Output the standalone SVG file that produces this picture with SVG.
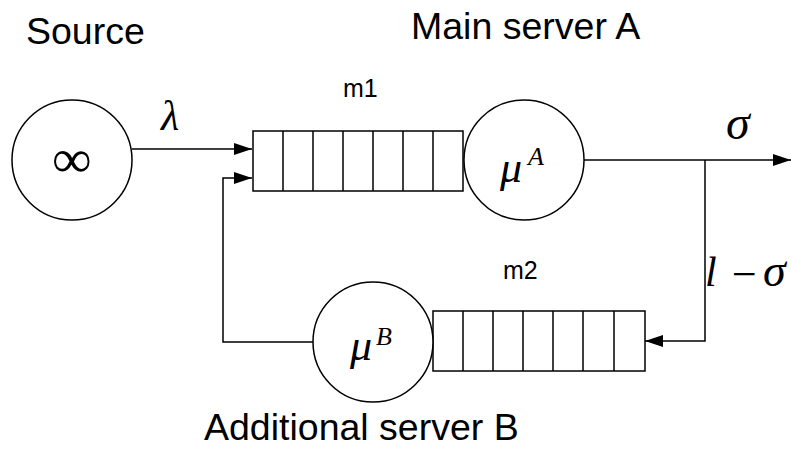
<svg xmlns="http://www.w3.org/2000/svg" width="791" height="459" viewBox="0 0 791 459">
<style>
.s{fill:#fff;stroke:#000;stroke-width:1.5}
.l{fill:none;stroke:#000;stroke-width:1.5}
.t{font-family:"Liberation Sans",Arial,sans-serif;fill:#000}
.m{font-family:"Liberation Serif","Times New Roman",serif;font-style:italic;fill:#000}
</style>
<defs>
<marker id="ah" markerWidth="18" markerHeight="12" refX="18" refY="6" orient="auto" markerUnits="userSpaceOnUse">
<path d="M0,0 L18,6 L0,12 Z" fill="#000"/>
</marker>
</defs>
<rect width="791" height="459" fill="#fff"/>
<g id="connectors">
<line class="l" x1="132" y1="149" x2="252" y2="149" marker-end="url(#ah)"/>
<line class="l" x1="584" y1="160" x2="791" y2="160" marker-end="url(#ah)"/>
<polyline class="l" points="705,160 705,341 645,341" marker-end="url(#ah)"/>
<polyline class="l" points="313,342 223,342 223,178 252,178" marker-end="url(#ah)"/>
</g>
<g id="source">
<circle class="s" cx="72" cy="160" r="60"/>
<text class="m" x="72" y="177" font-size="54" font-style="normal" text-anchor="middle">∞</text>
</g>
<g id="queue-m1">
<rect class="s" x="253" y="131" width="210" height="60"/>
<path class="l" d="M283,131V191M313,131V191M343,131V191M373,131V191M403,131V191M433,131V191"/>
</g>
<g id="server-a">
<circle class="s" cx="524" cy="160" r="60"/>
<text class="m" x="500" y="182" font-size="44">μ</text>
<text class="m" x="528" y="165" font-size="26">A</text>
</g>
<g id="queue-m2">
<rect class="s" x="433" y="311" width="212" height="60"/>
<path class="l" d="M463,311V371M493,311V371M523,311V371M553,311V371M583,311V371M614,311V371"/>
</g>
<g id="server-b">
<circle class="s" cx="373" cy="342" r="60"/>
<text class="m" x="350" y="360" font-size="44">μ</text>
<text class="m" x="376" y="345" font-size="26">B</text>
</g>
<g id="labels">
<text class="t" x="26" y="44" font-size="37.5">Source</text>
<text class="t" x="411" y="39" font-size="37.5">Main server A</text>
<text class="t" x="204" y="440" font-size="37.5">Additional server B</text>
<text class="t" x="343" y="97" font-size="25">m1</text>
<text class="t" x="503" y="279" font-size="25">m2</text>
<text class="m" x="161" y="130" font-size="42">λ</text>
<text class="m" x="726" y="139" font-size="48">σ</text>
<text class="m" x="705" y="286" font-size="42">l</text>
<text class="m" x="729" y="289" font-size="44" font-style="normal">−</text>
<text class="m" x="763" y="286" font-size="46">σ</text>
</g>
</svg>
